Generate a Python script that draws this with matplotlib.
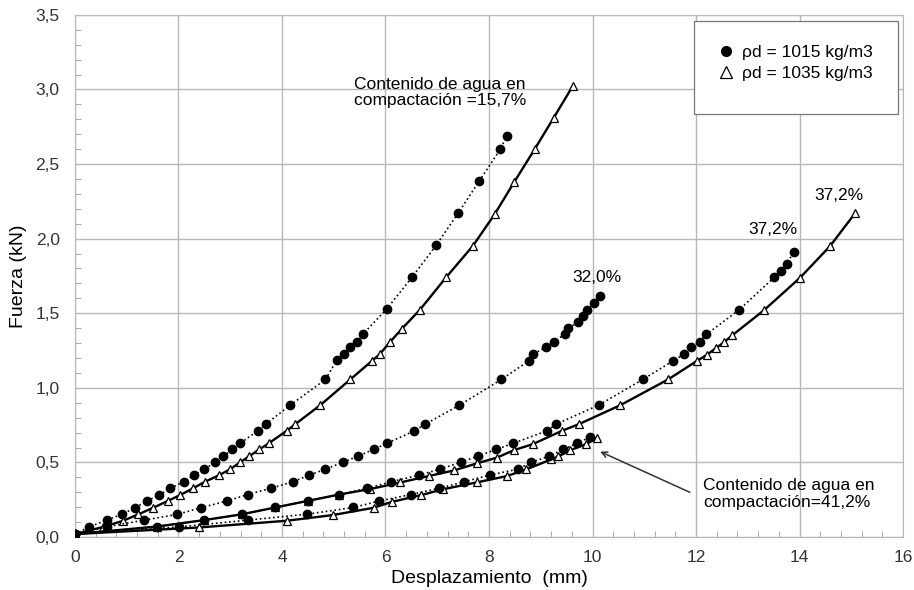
import numpy as np
import matplotlib
matplotlib.use("Agg")
import matplotlib.pyplot as plt
from matplotlib.lines import Line2D
from matplotlib.patches import Rectangle
from matplotlib.ticker import MultipleLocator, FuncFormatter

plt.rcParams['font.family'] = ['Liberation Sans', 'DejaVu Sans']

# rho_d = 1015 kg/m3 (circles, dotted)
x_c157 = [0, 0.28, 0.61, 0.90, 1.16, 1.39, 1.63, 1.84, 2.10, 2.30, 2.50, 2.71, 2.87, 3.04, 3.19,
          3.53, 3.69, 4.16, 4.84, 5.06, 5.19, 5.32, 5.45, 5.56, 6.02, 6.52, 6.98, 7.40, 7.81, 8.22, 8.34]
y_c157 = [0.02, 0.068, 0.113, 0.151, 0.196, 0.241, 0.281, 0.326, 0.370, 0.415, 0.455, 0.50, 0.542, 0.587, 0.627,
          0.712, 0.757, 0.884, 1.056, 1.186, 1.226, 1.271, 1.308, 1.358, 1.527, 1.744, 1.956, 2.169, 2.385, 2.600, 2.687]

x_c320 = [0, 0.61, 1.33, 1.97, 2.43, 2.93, 3.34, 3.78, 4.21, 4.53, 4.84, 5.17, 5.47, 5.77, 6.02,
          6.56, 6.77, 7.43, 8.24, 8.77, 8.85, 9.10, 9.25, 9.46, 9.53, 9.72, 9.82, 9.90, 10.03, 10.15]
y_c320 = [0.02, 0.068, 0.113, 0.151, 0.196, 0.241, 0.285, 0.326, 0.370, 0.415, 0.455, 0.50, 0.542, 0.587, 0.627,
          0.712, 0.757, 0.884, 1.056, 1.181, 1.226, 1.271, 1.308, 1.358, 1.398, 1.442, 1.482, 1.525, 1.570, 1.614]

x_c372 = [0, 1.58, 2.49, 3.22, 3.87, 4.51, 5.11, 5.64, 6.11, 6.65, 7.05, 7.45, 7.78, 8.14, 8.46,
          9.12, 9.30, 10.12, 10.97, 11.56, 11.77, 11.91, 12.07, 12.20, 12.84, 13.51, 13.64, 13.75, 13.89]
y_c372 = [0.02, 0.07, 0.113, 0.152, 0.198, 0.243, 0.285, 0.326, 0.370, 0.415, 0.455, 0.50, 0.542, 0.587, 0.627,
          0.712, 0.757, 0.884, 1.056, 1.181, 1.226, 1.271, 1.310, 1.358, 1.525, 1.740, 1.784, 1.827, 1.912]

x_c412 = [0, 2.01, 3.34, 4.48, 5.38, 5.88, 6.49, 7.03, 7.52, 8.01, 8.56, 8.81, 9.16, 9.43, 9.70, 9.96]
y_c412 = [0.02, 0.068, 0.113, 0.153, 0.198, 0.241, 0.285, 0.326, 0.370, 0.415, 0.455, 0.50, 0.542, 0.587, 0.627, 0.672]

# rho_d = 1035 kg/m3 (triangles, solid)
x_t157 = [0, 0.55, 0.93, 1.22, 1.51, 1.79, 2.03, 2.28, 2.51, 2.79, 3.00, 3.19, 3.37, 3.56, 3.74,
          4.09, 4.26, 4.74, 5.32, 5.74, 5.89, 6.09, 6.32, 6.67, 7.17, 7.69, 8.11, 8.49, 8.88, 9.25, 9.62]
y_t157 = [0.02, 0.068, 0.109, 0.151, 0.196, 0.241, 0.281, 0.326, 0.370, 0.415, 0.455, 0.50, 0.542, 0.587, 0.627,
          0.712, 0.757, 0.884, 1.056, 1.181, 1.226, 1.308, 1.397, 1.525, 1.740, 1.952, 2.164, 2.381, 2.598, 2.810, 3.024]

x_t372 = [0, 1.58, 2.49, 3.22, 3.87, 4.51, 5.11, 5.71, 6.29, 6.85, 7.32, 7.76, 8.16, 8.48, 8.85,
          9.41, 9.74, 10.54, 11.46, 12.02, 12.21, 12.38, 12.54, 12.70, 13.32, 14.01, 14.59, 15.07]
y_t372 = [0.02, 0.07, 0.113, 0.152, 0.198, 0.243, 0.285, 0.322, 0.366, 0.41, 0.446, 0.493, 0.533, 0.582, 0.623,
          0.712, 0.757, 0.884, 1.056, 1.181, 1.221, 1.265, 1.305, 1.352, 1.522, 1.738, 1.950, 2.169]

x_t412 = [0, 2.40, 4.09, 4.98, 5.77, 6.13, 6.69, 7.11, 7.76, 8.34, 8.72, 9.20, 9.34, 9.57, 9.88, 10.09]
y_t412 = [0.02, 0.064, 0.109, 0.147, 0.196, 0.236, 0.281, 0.32, 0.366, 0.408, 0.453, 0.52, 0.54, 0.582, 0.623, 0.665]

legend_labels = ['ρd = 1015 kg/m3', 'ρd = 1035 kg/m3']

fig = plt.figure(figsize=(9.14, 5.90), dpi=100, facecolor='white')
ax = fig.add_axes([0.082, 0.0898, 0.906, 0.885])

for xs, ys in [(x_t157, y_t157), (x_t372, y_t372), (x_t412, y_t412)]:
    ax.plot(xs, ys, '-', color='black', lw=1.7, marker='^', ms=5.5, mfc='white', mec='black', mew=0.9, zorder=3)
for xs, ys in [(x_c157, y_c157), (x_c320, y_c320), (x_c372, y_c372), (x_c412, y_c412)]:
    ax.plot(xs, ys, ':', color='black', lw=1.2, marker='o', ms=6, mfc='black', mec='black', zorder=4)

ax.set_xlim(0, 16)
ax.set_ylim(0, 3.5)
ax.xaxis.set_major_locator(MultipleLocator(2))
ax.yaxis.set_major_locator(MultipleLocator(0.5))
ax.xaxis.set_minor_locator(MultipleLocator(0.4))
ax.yaxis.set_minor_locator(MultipleLocator(0.1))
ax.yaxis.set_major_formatter(FuncFormatter(lambda v, p: ('%.1f' % v).replace('.', ',')))
ax.grid(True, which='major', color='#b8b8b8', lw=1.0)
ax.tick_params(which='major', length=0, labelsize=12.5, colors='#333333')
ax.tick_params(axis='x', which='major', pad=9)
ax.tick_params(axis='y', which='major', pad=11)
ax.tick_params(which='minor', direction='in', length=4, color='#999999')
for s in ax.spines.values():
    s.set_color('#b8b8b8')
ax.set_xlabel('Desplazamiento  (mm)', fontsize=14, labelpad=4)
ax.set_ylabel('Fuerza (kN)', fontsize=14, labelpad=6)

ax.text(5.4, 2.98, 'Contenido de agua en\ncompactación =15,7%', fontsize=12.5, ha='left', va='center', linespacing=1.15)
ax.text(10.08, 1.74, '32,0%', fontsize=12.5, ha='center', va='center')
ax.text(13.48, 2.06, '37,2%', fontsize=12.5, ha='center', va='center')
ax.text(14.76, 2.29, '37,2%', fontsize=12.5, ha='center', va='center')
ax.text(12.14, 0.29, 'Contenido de agua en\ncompactación=41,2%', fontsize=12.5, ha='left', va='center', linespacing=1.15)
ax.annotate('', xy=(10.1, 0.58), xytext=(11.93, 0.292),
            arrowprops=dict(arrowstyle='->', color='#333333', lw=1.1))

ax.add_patch(Rectangle((0.748, 0.81), 0.246, 0.178, transform=ax.transAxes, facecolor='white',
                       edgecolor='#777777', lw=0.9, zorder=5))
handles = [Line2D([], [], ls='', marker='o', ms=7, color='black'),
           Line2D([], [], ls='', marker='^', ms=9, mfc='white', mec='black', mew=0.9)]
leg = ax.legend(handles, legend_labels, loc='upper left', bbox_to_anchor=(0.755, 0.973), frameon=False,
                fontsize=12.5, handletextpad=0.3, labelspacing=0.35, handlelength=1.2)
leg.set_zorder(6)

fig.savefig('out.png', dpi=100)
